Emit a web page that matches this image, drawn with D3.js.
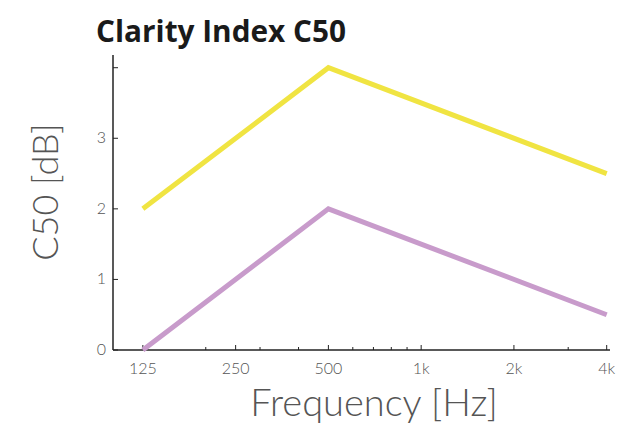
<!DOCTYPE html>
<html>
<head>
<meta charset="utf-8">
<script src="https://cdn.jsdelivr.net/npm/d3@7"></script>
<style>
	body { margin: 0; background: #fff; }
	text { font-family: "Lato", "Open Sans", sans-serif; }
</style>
</head>
<body>
<svg id="chart"></svg>
<script>
const frequencies = [125, 500, 4000];
const seriesA = [2, 4, 2.5];
const seriesB = [0, 2, 0.5];
const majorTicks = [125, 250, 500, 1000, 2000, 4000];
const tickLabels = ["125", "250", "500", "1k", "2k", "4k"];
const minorTicks = [200, 300, 400, 600, 700, 800, 900, 3000];
const yTicks = [0, 1, 2, 3, 4];

const width = 620, height = 426;
const svg = d3.select('#chart')
		.attr("width", width)
		.attr("height", height);

const x = d3.scaleLog()
		.domain([100, 4100])
		.range([113, 610]);
const y = d3.scaleLinear()
		.domain([0, 4.18])
		.range([350, 55]);

//title
svg.append("text")
	.attr("x", 96)
	.attr("y", 42)
	.style("font-family", "'Open Sans', sans-serif")
	.style("font-weight", "bold")
	.style("font-size", "31px")
	.style("fill", "#1a1a1a")
	.attr("textLength", 250)
	.attr("lengthAdjust", "spacingAndGlyphs")
	.text("Clarity Index C50");

//x axis
const xAxis = svg.append("g")
	.attr("transform", "translate(0,350)");
xAxis.append("line")
	.attr("x1", 113).attr("x2", 610)
	.style("stroke", "#222").style("stroke-width", "1.5px");
xAxis.selectAll(".minor")
	.data(minorTicks)
	.join("line")
	.attr("x1", d => x(d)).attr("x2", d => x(d))
	.attr("y1", 0).attr("y2", -3)
	.style("stroke", "#222");
xAxis.selectAll(".major")
	.data(majorTicks)
	.join("line")
	.attr("x1", d => x(d)).attr("x2", d => x(d))
	.attr("y1", 0).attr("y2", -5)
	.style("stroke", "#222");
xAxis.selectAll("text")
	.data(majorTicks)
	.join("text")
	.attr("x", d => x(d))
	.attr("y", 24)
	.attr("text-anchor", "middle")
	.style("font-size", "16px")
	.style("font-weight", 300)
	.style("fill", "#555")
	.text((d, i) => tickLabels[i]);

//y axis
const yAxis = svg.append("g")
	.attr("transform", "translate(113,0)");
yAxis.append("line")
	.attr("y1", 55).attr("y2", 350)
	.style("stroke", "#222").style("stroke-width", "1.5px");
yAxis.selectAll(".tick")
	.data(yTicks)
	.join("line")
	.attr("y1", d => y(d)).attr("y2", d => y(d))
	.attr("x1", 0).attr("x2", 5)
	.style("stroke", "#222");
yAxis.selectAll("text")
	.data(yTicks.filter(d => d < 4))
	.join("text")
	.attr("x", -7)
	.attr("y", d => y(d) + 5)
	.attr("text-anchor", "end")
	.style("font-size", "16px")
	.style("font-weight", 300)
	.style("fill", "#555")
	.text(d => d);

//axis labels
svg.append("text")
	.attr("x", 374)
	.attr("y", 416)
	.attr("text-anchor", "middle")
	.style("font-size", "38px")
	.style("font-weight", 300)
	.style("fill", "#555")
	.text("Frequency [Hz]");
svg.append("text")
	.attr("transform", "translate(58,192) rotate(-90)")
	.attr("text-anchor", "middle")
	.style("font-size", "36px")
	.style("font-weight", 300)
	.style("fill", "#555")
	.text("C50 [dB]");

//lines
const line = d3.line()
	.x(d => x(d[0]))
	.y(d => y(d[1]));
[[seriesA, "#f0e442"], [seriesB, "#c89bcb"]].forEach(function(s) {
	svg.append("path")
		.datum(d3.zip(frequencies, s[0]))
		.attr("d", line)
		.style("fill", "none")
		.style("stroke", s[1])
		.style("stroke-width", "5px");
});
</script>
</body>
</html>
